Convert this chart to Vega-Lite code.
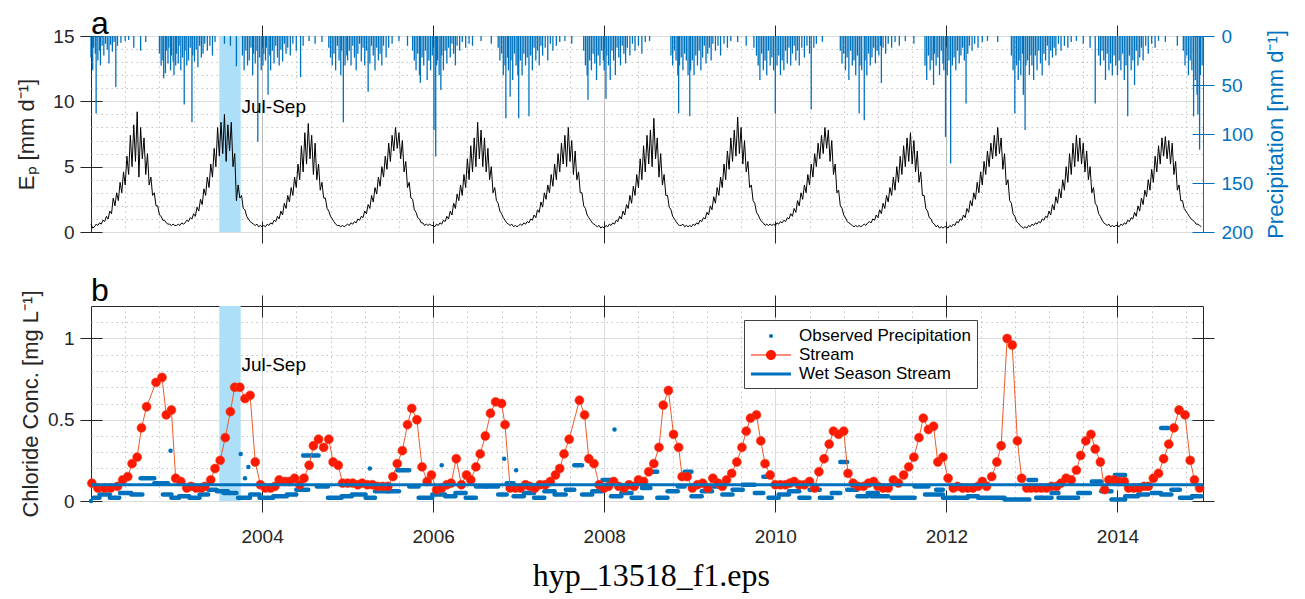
{
"$schema": "https://vega.github.io/schema/vega-lite/v6.json",
"background": "white",
"padding": {"left": 15, "top": 7, "right": 5, "bottom": 5},
"config": {
  "font": "Liberation Sans",
  "view": {"stroke": "#262626", "strokeWidth": 1},
  "axis": {"labelFont": "Liberation Sans", "titleFont": "Liberation Sans", "labelFontSize": 19, "titleFontSize": 22, "titleFontWeight": "normal", "labelColor": "#262626", "titleColor": "#262626", "tickColor": "#262626", "domain": false, "gridColor": "#DCDCDC", "labelOverlap": false}
},
"resolve": {"scale": {"x": "independent"}, "legend": {"color": "independent", "shape": "independent"}},
"title": {"text": "hyp_13518_f1.eps", "orient": "bottom", "anchor": "middle", "font": "Liberation Serif", "fontSize": 32, "fontWeight": "normal", "color": "#000000", "offset": 14},
"spacing": 30,
"vconcat": [
{
  "width": 1112, "height": 196,
  "title": {"text": "a", "anchor": "start", "frame": "group", "fontSize": 32, "fontWeight": "normal", "color": "#000000", "offset": -41, "baseline": "alphabetic", "font": "Liberation Sans"},
  "resolve": {"scale": {"y": "independent"}, "axis": {"x": "independent", "y": "independent"}},
  "layer": [
    {"data": {"values": [{}]},
     "mark": {"type": "point", "opacity": 0},
     "encoding": {
       "x": {"datum": 2002, "type": "quantitative", "scale": {"domain": [2002, 2015], "nice": false, "zero": false},
             "axis": {"orient": "bottom", "values": [2002.4,2002.8,2003.2,2003.6,2004,2004.4,2004.8,2005.2,2005.6,2006,2006.4,2006.8,2007.2,2007.6,2008,2008.4,2008.8,2009.2,2009.6,2010,2010.4,2010.8,2011.2,2011.6,2012,2012.4,2012.8,2013.2,2013.6,2014,2014.4,2014.8], "grid": true, "gridDash": [1.5, 3.5], "gridColor": "#C4C4C4", "ticks": false, "labels": false, "domain": false, "title": null}},
       "y": {"datum": 0, "type": "quantitative", "scale": {"domain": [0, 15], "nice": false, "zero": false},
             "axis": {"orient": "left", "values": [1,2,3,4,5,6,7,8,9,10,11,12,13,14], "grid": true, "gridDash": [1.5, 3.5], "gridColor": "#C4C4C4", "ticks": false, "labels": false, "domain": false, "title": null, "minExtent": 0}}
     }},
    {"data": {"values": [{"start": 2003.5, "end": 2003.75}]},
     "mark": {"type": "rect", "color": "#ADDFF9"},
     "encoding": {
       "x": {"field": "start", "type": "quantitative", "scale": {"domain": [2002, 2015], "nice": false, "zero": false}, "axis": null},
       "x2": {"field": "end"}
     }},
    {"data": {"values": "t,p\n2002.00,22\n2002.02,35\n2002.03,12\n2002.05,18\n2002.06,79\n2002.08,25\n2002.10,15\n2002.11,30\n2002.13,10\n2002.15,20\n2002.17,8\n2002.19,14\n2002.21,28\n2002.23,9\n2002.25,16\n2002.27,6\n2002.29,52\n2002.31,10\n2002.35,7\n2002.40,5\n2002.44,4\n2002.50,12\n2002.58,15\n2002.64,6\n2002.80,18\n2002.82,30\n2002.84,25\n2002.85,43\n2002.87,38\n2002.88,15\n2002.90,28\n2002.91,12\n2002.93,35\n2002.94,20\n2002.96,26\n2002.97,40\n2002.99,30\n2003.00,18\n2003.02,28\n2003.03,10\n2003.05,35\n2003.07,22\n2003.09,70\n2003.10,15\n2003.12,30\n2003.14,25\n2003.16,12\n2003.18,88\n2003.19,20\n2003.21,26\n2003.23,14\n2003.25,32\n2003.27,10\n2003.29,22\n2003.31,18\n2003.33,8\n2003.36,15\n2003.39,10\n2003.42,20\n2003.45,6\n2003.56,8\n2003.63,10\n2003.70,31\n2003.77,20\n2003.79,35\n2003.81,15\n2003.83,30\n2003.85,25\n2003.87,12\n2003.89,40\n2003.90,18\n2003.92,28\n2003.94,15\n2003.95,108\n2003.97,22\n2003.99,35\n2004.01,30\n2004.02,18\n2004.04,25\n2004.05,12\n2004.07,60\n2004.09,20\n2004.10,35\n2004.12,15\n2004.14,28\n2004.16,10\n2004.18,22\n2004.20,30\n2004.22,14\n2004.24,26\n2004.26,8\n2004.28,18\n2004.30,12\n2004.33,20\n2004.36,8\n2004.40,15\n2004.45,42\n2004.48,10\n2004.55,5\n2004.62,8\n2004.70,6\n2004.78,12\n2004.80,22\n2004.82,30\n2004.84,18\n2004.86,35\n2004.88,10\n2004.90,25\n2004.92,40\n2004.93,15\n2004.95,88\n2004.97,30\n2004.99,20\n2005.00,25\n2005.02,15\n2005.04,30\n2005.06,10\n2005.08,22\n2005.10,35\n2005.12,18\n2005.14,8\n2005.16,26\n2005.18,12\n2005.20,30\n2005.22,15\n2005.24,57\n2005.26,28\n2005.28,10\n2005.30,20\n2005.32,35\n2005.34,12\n2005.36,25\n2005.38,18\n2005.40,30\n2005.42,10\n2005.45,22\n2005.48,12\n2005.52,8\n2005.60,5\n2005.70,10\n2005.76,15\n2005.78,25\n2005.80,35\n2005.82,18\n2005.84,40\n2005.85,48\n2005.87,22\n2005.89,30\n2005.91,15\n2005.93,45\n2005.95,25\n2005.97,35\n2005.99,20\n2006.01,96\n2006.03,123\n2006.04,30\n2006.05,25\n2006.07,40\n2006.09,55\n2006.10,20\n2006.12,35\n2006.14,15\n2006.16,28\n2006.18,12\n2006.20,22\n2006.22,8\n2006.24,18\n2006.26,30\n2006.28,10\n2006.31,15\n2006.34,6\n2006.38,12\n2006.42,8\n2006.46,10\n2006.56,5\n2006.68,8\n2006.76,12\n2006.78,25\n2006.80,18\n2006.82,40\n2006.84,30\n2006.85,84\n2006.87,22\n2006.88,35\n2006.90,62\n2006.91,25\n2006.93,45\n2006.95,18\n2006.97,30\n2006.99,40\n2007.00,84\n2007.02,25\n2007.04,40\n2007.06,18\n2007.08,30\n2007.10,22\n2007.12,82\n2007.14,20\n2007.16,35\n2007.18,12\n2007.20,25\n2007.22,15\n2007.24,30\n2007.26,10\n2007.28,20\n2007.31,12\n2007.34,25\n2007.37,8\n2007.40,15\n2007.44,10\n2007.48,6\n2007.54,5\n2007.62,8\n2007.76,15\n2007.78,30\n2007.80,40\n2007.81,65\n2007.83,25\n2007.85,35\n2007.87,18\n2007.89,28\n2007.91,45\n2007.93,20\n2007.95,30\n2007.97,15\n2007.99,25\n2008.00,35\n2008.02,64\n2008.03,20\n2008.05,30\n2008.07,45\n2008.09,15\n2008.11,25\n2008.13,40\n2008.15,12\n2008.17,22\n2008.19,30\n2008.21,10\n2008.23,18\n2008.25,28\n2008.27,12\n2008.30,20\n2008.33,8\n2008.36,15\n2008.40,10\n2008.44,18\n2008.48,6\n2008.53,5\n2008.78,20\n2008.80,30\n2008.82,15\n2008.84,25\n2008.86,40\n2008.87,79\n2008.88,30\n2008.90,22\n2008.92,35\n2008.94,18\n2008.96,25\n2008.98,40\n2009.00,82\n2009.01,35\n2009.03,25\n2009.05,40\n2009.07,20\n2009.09,30\n2009.11,15\n2009.13,35\n2009.15,22\n2009.17,10\n2009.19,28\n2009.21,18\n2009.23,12\n2009.25,25\n2009.27,8\n2009.30,15\n2009.33,10\n2009.36,20\n2009.40,8\n2009.44,12\n2009.48,5\n2009.56,6\n2009.66,10\n2009.75,12\n2009.78,20\n2009.80,30\n2009.82,45\n2009.84,18\n2009.86,35\n2009.88,25\n2009.90,40\n2009.92,15\n2009.94,30\n2009.96,22\n2009.98,35\n2010.00,79\n2010.02,30\n2010.04,20\n2010.06,40\n2010.08,25\n2010.10,35\n2010.12,15\n2010.14,28\n2010.16,12\n2010.18,30\n2010.20,18\n2010.22,10\n2010.24,25\n2010.26,15\n2010.28,30\n2010.31,12\n2010.34,22\n2010.37,10\n2010.40,18\n2010.42,75\n2010.45,12\n2010.48,8\n2010.55,6\n2010.76,15\n2010.78,28\n2010.80,18\n2010.82,35\n2010.84,22\n2010.86,45\n2010.88,15\n2010.90,30\n2010.92,25\n2010.94,40\n2010.96,20\n2010.98,79\n2010.99,30\n2011.01,35\n2011.04,86\n2011.05,25\n2011.07,40\n2011.09,18\n2011.11,30\n2011.13,22\n2011.15,12\n2011.17,28\n2011.19,15\n2011.21,20\n2011.23,10\n2011.24,48\n2011.26,12\n2011.29,18\n2011.32,8\n2011.36,12\n2011.40,6\n2011.45,10\n2011.52,5\n2011.62,8\n2011.75,30\n2011.77,45\n2011.79,20\n2011.81,35\n2011.83,25\n2011.85,50\n2011.86,18\n2011.88,30\n2011.90,22\n2011.92,40\n2011.94,15\n2011.96,28\n2011.97,35\n2011.99,103\n2012.01,40\n2012.03,25\n2012.05,130\n2012.07,30\n2012.09,22\n2012.11,35\n2012.13,15\n2012.15,28\n2012.17,20\n2012.19,12\n2012.21,25\n2012.23,69\n2012.25,18\n2012.27,10\n2012.30,15\n2012.33,8\n2012.37,12\n2012.42,6\n2012.48,5\n2012.60,6\n2012.76,20\n2012.78,35\n2012.80,79\n2012.82,30\n2012.84,45\n2012.85,25\n2012.87,40\n2012.89,18\n2012.90,60\n2012.92,96\n2012.93,30\n2012.95,25\n2012.97,40\n2012.99,20\n2013.00,30\n2013.02,45\n2013.04,20\n2013.06,35\n2013.08,15\n2013.10,28\n2013.12,40\n2013.14,18\n2013.16,25\n2013.18,10\n2013.20,30\n2013.22,15\n2013.24,22\n2013.26,12\n2013.28,20\n2013.31,8\n2013.34,15\n2013.38,10\n2013.42,12\n2013.46,6\n2013.52,5\n2013.60,8\n2013.68,12\n2013.74,69\n2013.78,20\n2013.80,30\n2013.82,15\n2013.84,25\n2013.86,45\n2013.88,18\n2013.90,35\n2013.92,28\n2013.94,40\n2013.96,20\n2013.98,30\n2014.00,40\n2014.02,25\n2014.04,35\n2014.06,18\n2014.08,45\n2014.10,30\n2014.12,82\n2014.14,20\n2014.16,35\n2014.18,25\n2014.20,50\n2014.22,15\n2014.24,30\n2014.26,22\n2014.28,12\n2014.30,25\n2014.33,10\n2014.36,18\n2014.40,8\n2014.44,12\n2014.48,5\n2014.56,6\n2014.70,10\n2014.77,15\n2014.79,30\n2014.81,20\n2014.83,40\n2014.85,25\n2014.87,35\n2014.89,82\n2014.91,45\n2014.93,60\n2014.94,80\n2014.96,116\n2014.97,40\n2014.99,30", "format": {"type": "csv", "parse": {"t": "number", "p": "number"}}},
     "mark": {"type": "rule", "color": "#0072BD", "strokeWidth": 1.3},
     "encoding": {
       "x": {"field": "t", "type": "quantitative", "scale": {"domain": [2002, 2015], "nice": false, "zero": false}, "axis": null},
       "y": {"field": "p", "type": "quantitative", "scale": {"domain": [0, 200], "reverse": true, "nice": false, "zero": false},
             "axis": {"orient": "right", "values": [0, 50, 100, 150, 200], "title": "Precipitation [mm d⁻¹]", "titleAngle": 270, "titleBaseline": "top", "titlePadding": 13, "labelColor": "#0072BD", "titleColor": "#0072BD", "tickColor": "#0072BD", "domain": true, "domainColor": "#0072BD", "tickSize": 11, "labelPadding": 7, "grid": false}},
       "y2": {"datum": 0}
     }},
    {"data": {"values": "t,e\n2002.00,0.6\n2002.02,0.3\n2002.04,0.4\n2002.06,0.6\n2002.08,0.5\n2002.10,0.7\n2002.12,0.6\n2002.14,0.9\n2002.16,0.8\n2002.18,1.2\n2002.20,1.0\n2002.22,1.6\n2002.24,1.4\n2002.26,2.6\n2002.28,2.0\n2002.30,3.0\n2002.32,2.4\n2002.34,3.8\n2002.36,3.0\n2002.38,4.6\n2002.40,3.6\n2002.42,5.8\n2002.44,4.4\n2002.46,7.4\n2002.48,5.0\n2002.50,8.2\n2002.52,5.4\n2002.54,9.2\n2002.56,4.2\n2002.58,8.0\n2002.60,5.6\n2002.62,7.2\n2002.64,4.4\n2002.66,6.0\n2002.68,3.6\n2002.70,4.2\n2002.72,2.8\n2002.74,3.0\n2002.76,2.0\n2002.78,2.0\n2002.80,1.3\n2002.82,1.2\n2002.84,0.9\n2002.86,0.9\n2002.88,0.7\n2002.90,0.6\n2002.92,0.6\n2002.94,0.5\n2002.96,0.6\n2002.98,0.5\n2003.00,0.5\n2003.02,0.6\n2003.04,0.5\n2003.06,0.7\n2003.08,0.6\n2003.10,0.7\n2003.12,0.9\n2003.14,0.8\n2003.16,1.1\n2003.18,1.0\n2003.20,1.4\n2003.22,1.2\n2003.24,1.9\n2003.26,1.6\n2003.28,2.5\n2003.30,2.1\n2003.32,3.3\n2003.34,2.8\n2003.36,4.2\n2003.38,3.4\n2003.40,5.2\n2003.42,4.2\n2003.44,6.4\n2003.46,5.0\n2003.48,8.0\n2003.50,5.8\n2003.52,8.4\n2003.54,6.0\n2003.56,9.0\n2003.58,5.4\n2003.60,8.2\n2003.62,6.2\n2003.64,8.4\n2003.66,5.0\n2003.68,6.0\n2003.70,2.4\n2003.72,3.6\n2003.74,2.6\n2003.76,2.8\n2003.78,1.8\n2003.80,1.7\n2003.82,1.2\n2003.84,1.0\n2003.86,0.8\n2003.88,0.7\n2003.90,0.6\n2003.92,0.5\n2003.94,0.6\n2003.96,0.4\n2003.98,0.5\n2004.00,0.4\n2004.02,0.5\n2004.04,0.4\n2004.06,0.6\n2004.08,0.5\n2004.10,0.7\n2004.12,0.6\n2004.14,0.9\n2004.16,0.8\n2004.18,1.2\n2004.20,1.0\n2004.22,1.6\n2004.24,1.3\n2004.26,2.2\n2004.28,1.8\n2004.30,2.8\n2004.32,2.3\n2004.34,3.4\n2004.36,2.8\n2004.38,4.2\n2004.40,3.4\n2004.42,5.2\n2004.44,4.0\n2004.46,6.6\n2004.48,4.6\n2004.50,7.6\n2004.52,5.2\n2004.54,8.3\n2004.56,5.6\n2004.58,7.4\n2004.60,4.4\n2004.62,6.8\n2004.64,4.0\n2004.66,5.2\n2004.68,3.2\n2004.70,3.8\n2004.72,2.6\n2004.74,2.6\n2004.76,1.8\n2004.78,1.6\n2004.80,1.2\n2004.82,1.0\n2004.84,0.8\n2004.86,0.6\n2004.88,0.5\n2004.90,0.5\n2004.92,0.4\n2004.94,0.5\n2004.96,0.4\n2004.98,0.5\n2005.00,0.6\n2005.02,0.5\n2005.04,0.7\n2005.06,0.6\n2005.08,0.8\n2005.10,0.7\n2005.12,1.0\n2005.14,0.9\n2005.16,1.2\n2005.18,1.1\n2005.20,1.6\n2005.22,1.4\n2005.24,2.1\n2005.26,1.8\n2005.28,2.8\n2005.30,2.3\n2005.32,3.4\n2005.34,2.9\n2005.36,4.2\n2005.38,3.5\n2005.40,5.0\n2005.42,4.2\n2005.44,5.8\n2005.46,4.8\n2005.48,6.8\n2005.50,5.4\n2005.52,7.4\n2005.54,6.2\n2005.56,8.0\n2005.58,6.4\n2005.60,7.6\n2005.62,5.6\n2005.64,7.0\n2005.66,4.6\n2005.68,5.4\n2005.70,3.4\n2005.72,3.8\n2005.74,2.6\n2005.76,2.5\n2005.78,1.7\n2005.80,1.5\n2005.82,1.1\n2005.84,1.0\n2005.86,0.7\n2005.88,0.7\n2005.90,0.5\n2005.92,0.6\n2005.94,0.5\n2005.96,0.6\n2005.98,0.5\n2006.00,0.5\n2006.02,0.4\n2006.04,0.6\n2006.06,0.5\n2006.08,0.7\n2006.10,0.6\n2006.12,0.9\n2006.14,0.8\n2006.16,1.2\n2006.18,1.0\n2006.20,1.6\n2006.22,1.3\n2006.24,2.2\n2006.26,1.8\n2006.28,2.9\n2006.30,2.4\n2006.32,3.6\n2006.34,2.8\n2006.36,4.4\n2006.38,3.4\n2006.40,5.6\n2006.42,4.0\n2006.44,6.6\n2006.46,4.6\n2006.48,7.2\n2006.50,5.0\n2006.52,8.4\n2006.54,5.6\n2006.56,7.8\n2006.58,5.0\n2006.60,7.2\n2006.62,4.6\n2006.64,6.4\n2006.66,4.0\n2006.68,5.0\n2006.70,3.0\n2006.72,3.4\n2006.74,2.4\n2006.76,2.2\n2006.78,1.6\n2006.80,1.4\n2006.82,1.1\n2006.84,0.9\n2006.86,0.7\n2006.88,0.6\n2006.90,0.5\n2006.92,0.6\n2006.94,0.4\n2006.96,0.5\n2006.98,0.4\n2007.00,0.5\n2007.02,0.6\n2007.04,0.5\n2007.06,0.7\n2007.08,0.6\n2007.10,0.8\n2007.12,0.7\n2007.14,1.0\n2007.16,0.9\n2007.18,1.3\n2007.20,1.1\n2007.22,1.7\n2007.24,1.5\n2007.26,2.3\n2007.28,1.9\n2007.30,3.0\n2007.32,2.5\n2007.34,3.6\n2007.36,3.0\n2007.38,4.4\n2007.40,3.5\n2007.42,5.2\n2007.44,4.0\n2007.46,6.0\n2007.48,4.6\n2007.50,6.8\n2007.52,5.2\n2007.54,7.4\n2007.56,5.0\n2007.58,8.0\n2007.60,5.4\n2007.62,7.0\n2007.64,4.4\n2007.66,6.2\n2007.68,4.0\n2007.70,4.6\n2007.72,3.0\n2007.74,3.0\n2007.76,2.0\n2007.78,1.8\n2007.80,1.3\n2007.82,1.1\n2007.84,0.9\n2007.86,0.7\n2007.88,0.6\n2007.90,0.5\n2007.92,0.4\n2007.94,0.5\n2007.96,0.3\n2007.98,0.4\n2008.00,0.3\n2008.02,0.5\n2008.04,0.4\n2008.06,0.6\n2008.08,0.5\n2008.10,0.7\n2008.12,0.6\n2008.14,0.9\n2008.16,0.8\n2008.18,1.2\n2008.20,1.0\n2008.22,1.6\n2008.24,1.3\n2008.26,2.1\n2008.28,1.8\n2008.30,2.8\n2008.32,2.2\n2008.34,3.5\n2008.36,2.8\n2008.38,4.4\n2008.40,3.4\n2008.42,5.6\n2008.44,4.0\n2008.46,6.6\n2008.48,4.6\n2008.50,7.4\n2008.52,5.2\n2008.54,7.8\n2008.56,5.0\n2008.58,8.7\n2008.60,5.6\n2008.62,7.2\n2008.64,4.2\n2008.66,6.0\n2008.68,3.6\n2008.70,4.4\n2008.72,2.8\n2008.74,2.8\n2008.76,1.9\n2008.78,1.7\n2008.80,1.2\n2008.82,1.0\n2008.84,0.8\n2008.86,0.6\n2008.88,0.5\n2008.90,0.5\n2008.92,0.6\n2008.94,0.4\n2008.96,0.5\n2008.98,0.4\n2009.00,0.5\n2009.02,0.4\n2009.04,0.6\n2009.06,0.5\n2009.08,0.7\n2009.10,0.6\n2009.12,0.9\n2009.14,0.8\n2009.16,1.1\n2009.18,1.0\n2009.20,1.5\n2009.22,1.3\n2009.24,2.0\n2009.26,1.7\n2009.28,2.7\n2009.30,2.2\n2009.32,3.4\n2009.34,2.8\n2009.36,4.2\n2009.38,3.4\n2009.40,5.2\n2009.42,4.0\n2009.44,6.2\n2009.46,4.8\n2009.48,7.2\n2009.50,5.4\n2009.52,7.8\n2009.54,5.8\n2009.56,8.8\n2009.58,6.0\n2009.60,8.0\n2009.62,5.2\n2009.64,7.0\n2009.66,4.6\n2009.68,5.4\n2009.70,3.4\n2009.72,3.6\n2009.74,2.4\n2009.76,2.2\n2009.78,1.5\n2009.80,1.3\n2009.82,1.0\n2009.84,0.8\n2009.86,0.7\n2009.88,0.5\n2009.90,0.6\n2009.92,0.5\n2009.94,0.6\n2009.96,0.5\n2009.98,0.6\n2010.00,0.5\n2010.02,0.7\n2010.04,0.6\n2010.06,0.8\n2010.08,0.7\n2010.10,0.9\n2010.12,0.8\n2010.14,1.1\n2010.16,1.0\n2010.18,1.4\n2010.20,1.2\n2010.22,1.8\n2010.24,1.5\n2010.26,2.4\n2010.28,2.0\n2010.30,3.0\n2010.32,2.5\n2010.34,3.6\n2010.36,3.0\n2010.38,4.4\n2010.40,3.6\n2010.42,5.2\n2010.44,4.2\n2010.46,6.0\n2010.48,5.0\n2010.50,6.8\n2010.52,5.6\n2010.54,7.4\n2010.56,6.0\n2010.58,8.0\n2010.60,6.4\n2010.62,7.8\n2010.64,5.4\n2010.66,7.0\n2010.68,4.4\n2010.70,5.2\n2010.72,3.0\n2010.74,3.2\n2010.76,2.0\n2010.78,1.8\n2010.80,1.3\n2010.82,1.1\n2010.84,0.8\n2010.86,0.7\n2010.88,0.6\n2010.90,0.5\n2010.92,0.4\n2010.94,0.5\n2010.96,0.4\n2010.98,0.5\n2011.00,0.4\n2011.02,0.5\n2011.04,0.6\n2011.06,0.5\n2011.08,0.7\n2011.10,0.8\n2011.12,0.7\n2011.14,1.0\n2011.16,0.9\n2011.18,1.3\n2011.20,1.1\n2011.22,1.7\n2011.24,1.4\n2011.26,2.2\n2011.28,1.8\n2011.30,2.8\n2011.32,2.3\n2011.34,3.4\n2011.36,2.8\n2011.38,4.2\n2011.40,3.2\n2011.42,5.0\n2011.44,3.8\n2011.46,5.8\n2011.48,4.4\n2011.50,6.6\n2011.52,5.0\n2011.54,7.2\n2011.56,5.4\n2011.58,7.6\n2011.60,5.2\n2011.62,7.0\n2011.64,4.6\n2011.66,6.2\n2011.68,3.8\n2011.70,4.6\n2011.72,2.8\n2011.74,2.8\n2011.76,1.8\n2011.78,1.6\n2011.80,1.1\n2011.82,1.0\n2011.84,0.7\n2011.86,0.6\n2011.88,0.4\n2011.90,0.5\n2011.92,0.3\n2011.94,0.4\n2011.96,0.3\n2011.98,0.4\n2012.00,0.4\n2012.02,0.3\n2012.04,0.5\n2012.06,0.4\n2012.08,0.6\n2012.10,0.5\n2012.12,0.8\n2012.14,0.7\n2012.16,1.0\n2012.18,0.9\n2012.20,1.3\n2012.22,1.1\n2012.24,1.8\n2012.26,1.5\n2012.28,2.4\n2012.30,2.0\n2012.32,3.0\n2012.34,2.5\n2012.36,3.8\n2012.38,3.0\n2012.40,4.6\n2012.42,3.6\n2012.44,5.4\n2012.46,4.4\n2012.48,6.2\n2012.50,5.0\n2012.52,6.8\n2012.54,5.6\n2012.56,7.4\n2012.58,5.8\n2012.60,8.0\n2012.62,6.0\n2012.64,7.2\n2012.66,4.8\n2012.68,6.0\n2012.70,3.6\n2012.72,4.0\n2012.74,2.4\n2012.76,2.2\n2012.78,1.4\n2012.80,1.2\n2012.82,0.8\n2012.84,0.7\n2012.86,0.5\n2012.88,0.4\n2012.90,0.3\n2012.92,0.4\n2012.94,0.3\n2012.96,0.5\n2012.98,0.4\n2013.00,0.6\n2013.02,0.5\n2013.04,0.7\n2013.06,0.6\n2013.08,0.8\n2013.10,0.7\n2013.12,1.0\n2013.14,0.9\n2013.16,1.2\n2013.18,1.1\n2013.20,1.6\n2013.22,1.3\n2013.24,2.1\n2013.26,1.7\n2013.28,2.7\n2013.30,2.2\n2013.32,3.3\n2013.34,2.6\n2013.36,4.0\n2013.38,3.2\n2013.40,5.0\n2013.42,3.8\n2013.44,6.0\n2013.46,4.4\n2013.48,6.8\n2013.50,5.0\n2013.52,7.4\n2013.54,5.4\n2013.56,7.2\n2013.58,5.2\n2013.60,6.8\n2013.62,4.6\n2013.64,6.2\n2013.66,4.0\n2013.68,5.0\n2013.70,3.0\n2013.72,3.4\n2013.74,2.2\n2013.76,2.0\n2013.78,1.4\n2013.80,1.2\n2013.82,0.9\n2013.84,0.7\n2013.86,0.6\n2013.88,0.5\n2013.90,0.6\n2013.92,0.4\n2013.94,0.5\n2013.96,0.4\n2013.98,0.5\n2014.00,0.5\n2014.02,0.4\n2014.04,0.6\n2014.06,0.5\n2014.08,0.7\n2014.10,0.6\n2014.12,0.9\n2014.14,0.8\n2014.16,1.1\n2014.18,1.0\n2014.20,1.5\n2014.22,1.2\n2014.24,2.0\n2014.26,1.6\n2014.28,2.6\n2014.30,2.1\n2014.32,3.2\n2014.34,2.7\n2014.36,4.0\n2014.38,3.2\n2014.40,4.8\n2014.42,3.8\n2014.44,5.8\n2014.46,4.6\n2014.48,6.6\n2014.50,5.2\n2014.52,7.2\n2014.54,5.8\n2014.56,7.3\n2014.58,5.6\n2014.60,7.0\n2014.62,5.2\n2014.64,6.8\n2014.66,4.4\n2014.68,5.4\n2014.70,3.2\n2014.72,3.6\n2014.74,2.4\n2014.76,2.4\n2014.78,1.8\n2014.80,1.6\n2014.82,1.4\n2014.84,1.2\n2014.86,1.0\n2014.88,0.9\n2014.90,0.8\n2014.92,0.6\n2014.94,0.6\n2014.96,0.5\n2014.98,0.4", "format": {"type": "csv", "parse": {"t": "number", "e": "number"}}},
     "mark": {"type": "line", "color": "#000000", "strokeWidth": 1},
     "encoding": {
       "x": {"field": "t", "type": "quantitative", "scale": {"domain": [2002, 2015], "nice": false, "zero": false},
             "axis": {"orient": "bottom", "values": [2004, 2006, 2008, 2010, 2012, 2014], "labels": false, "grid": true, "gridColor": "#B8B8B8", "tickSize": 22, "offset": -11, "title": null, "domain": false}},
       "y": {"field": "e", "type": "quantitative", "scale": {"domain": [0, 15], "nice": false, "zero": false},
             "axis": {"orient": "left", "values": [0, 5, 10, 15], "tickSize": 22, "offset": -11, "labelPadding": 6, "grid": true, "title": "Eₚ [mm d⁻¹]", "titlePadding": 14}}
     }},
    {"data": {"values": [{}]},
     "mark": {"type": "text", "text": "Jul-Sep", "align": "left", "baseline": "middle", "fontSize": 19, "font": "Liberation Sans", "color": "#000000"},
     "encoding": {
       "x": {"datum": 2003.76, "type": "quantitative", "scale": {"domain": [2002, 2015], "nice": false, "zero": false},
             "axis": {"orient": "top", "values": [2004, 2006, 2008, 2010, 2012, 2014], "labels": false, "tickSize": 22, "offset": -11, "grid": false, "title": null, "domain": false}},
       "y": {"datum": 72, "type": "quantitative", "scale": {"domain": [0, 200], "reverse": true, "nice": false, "zero": false},
             "axis": {"orient": "right", "values": [0, 50, 100, 150, 200], "labels": false, "tickSize": 11, "offset": -11, "tickColor": "#0072BD", "grid": false, "title": null, "domain": false, "minExtent": 0}}
     }}
  ]
},
{
  "width": 1112, "height": 195,
  "title": {"text": "b", "anchor": "start", "frame": "group", "fontSize": 32, "fontWeight": "normal", "color": "#000000", "offset": -43, "baseline": "alphabetic", "font": "Liberation Sans"},
  "resolve": {"axis": {"x": "independent", "y": "independent"}},
  "layer": [
    {"data": {"values": [{}]},
     "mark": {"type": "point", "opacity": 0},
     "encoding": {
       "x": {"datum": 2002, "type": "quantitative", "scale": {"domain": [2002, 2015], "nice": false, "zero": false},
             "axis": {"orient": "bottom", "values": [2002.4,2002.8,2003.2,2003.6,2004,2004.4,2004.8,2005.2,2005.6,2006,2006.4,2006.8,2007.2,2007.6,2008,2008.4,2008.8,2009.2,2009.6,2010,2010.4,2010.8,2011.2,2011.6,2012,2012.4,2012.8,2013.2,2013.6,2014,2014.4,2014.8], "grid": true, "gridDash": [1.5, 3.5], "gridColor": "#C4C4C4", "ticks": false, "labels": false, "domain": false, "title": null}},
       "y": {"datum": 0, "type": "quantitative", "scale": {"domain": [0, 1.2], "nice": false, "zero": false},
             "axis": {"orient": "left", "values": [0.1,0.2,0.3,0.4,0.5,0.6,0.7,0.8,0.9,1.0,1.1], "grid": true, "gridDash": [1.5, 3.5], "gridColor": "#C4C4C4", "ticks": false, "labels": false, "domain": false, "title": null, "minExtent": 0}}
     }},
    {"data": {"values": [{"start": 2003.5, "end": 2003.75}]},
     "mark": {"type": "rect", "color": "#ADDFF9"},
     "encoding": {
       "x": {"field": "start", "type": "quantitative", "scale": {"domain": [2002, 2015], "nice": false, "zero": false}, "axis": null},
       "x2": {"field": "end"}
     }},
    {"data": {"values": "a,b,c\n2002.00,2002.00,0.00\n2002.03,2002.10,0.02\n2002.10,2002.22,0.04\n2002.22,2002.33,0.02\n2002.34,2002.47,0.05\n2002.47,2002.60,0.04\n2002.58,2002.74,0.14\n2002.74,2002.90,0.11\n2002.84,2002.94,0.04\n2002.93,2002.93,0.31\n2002.94,2003.03,0.02\n2003.03,2003.15,0.03\n2003.15,2003.27,0.02\n2003.27,2003.37,0.04\n2003.37,2003.47,0.07\n2003.47,2003.60,0.06\n2003.55,2003.70,0.05\n2003.75,2003.75,0.29\n2003.80,2003.80,0.14\n2003.84,2003.84,0.21\n2003.72,2003.86,0.02\n2003.86,2003.97,0.04\n2003.97,2004.13,0.02\n2004.13,2004.29,0.03\n2004.29,2004.40,0.04\n2004.40,2004.54,0.07\n2004.48,2004.66,0.28\n2004.64,2004.77,0.09\n2004.77,2004.93,0.02\n2004.93,2005.05,0.03\n2005.05,2005.21,0.04\n2005.26,2005.26,0.20\n2005.21,2005.32,0.02\n2005.32,2005.48,0.06\n2005.46,2005.60,0.06\n2005.58,2005.72,0.19\n2005.72,2005.83,0.09\n2005.83,2005.99,0.02\n2005.99,2006.14,0.04\n2006.10,2006.10,0.22\n2006.14,2006.26,0.03\n2006.26,2006.38,0.05\n2006.38,2006.50,0.02\n2006.50,2006.62,0.09\n2006.62,2006.76,0.09\n2006.76,2006.86,0.04\n2006.83,2006.83,0.26\n2006.86,2006.94,0.11\n2006.97,2006.97,0.19\n2006.94,2007.06,0.03\n2007.06,2007.18,0.05\n2007.18,2007.30,0.02\n2007.30,2007.42,0.06\n2007.42,2007.55,0.04\n2007.55,2007.65,0.07\n2007.65,2007.74,0.22\n2007.74,2007.86,0.04\n2007.86,2007.98,0.06\n2007.98,2008.08,0.13\n2008.08,2008.20,0.03\n2008.12,2008.12,0.44\n2008.20,2008.32,0.05\n2008.32,2008.44,0.02\n2008.44,2008.54,0.08\n2008.54,2008.62,0.18\n2008.62,2008.74,0.02\n2008.74,2008.86,0.06\n2008.86,2008.94,0.09\n2008.94,2009.02,0.18\n2009.02,2009.14,0.03\n2009.14,2009.26,0.06\n2009.26,2009.38,0.09\n2009.38,2009.50,0.04\n2009.50,2009.62,0.07\n2009.62,2009.76,0.10\n2009.76,2009.86,0.05\n2009.86,2009.92,0.15\n2009.92,2010.04,0.02\n2010.04,2010.16,0.04\n2010.16,2010.28,0.06\n2010.28,2010.40,0.02\n2010.40,2010.52,0.07\n2010.52,2010.66,0.02\n2010.66,2010.76,0.05\n2010.76,2010.84,0.24\n2010.84,2010.96,0.07\n2010.96,2011.08,0.03\n2011.08,2011.20,0.05\n2011.12,2011.32,0.03\n2011.36,2011.63,0.02\n2011.63,2011.79,0.09\n2011.75,2011.96,0.04\n2011.88,2011.96,0.07\n2011.96,2012.10,0.02\n2012.10,2012.25,0.02\n2012.25,2012.37,0.03\n2012.37,2012.68,0.02\n2012.68,2012.97,0.01\n2012.96,2013.05,0.13\n2013.05,2013.11,0.02\n2013.11,2013.23,0.02\n2013.23,2013.31,0.05\n2013.31,2013.54,0.02\n2013.54,2013.68,0.05\n2013.70,2013.81,0.12\n2013.81,2013.93,0.06\n2013.93,2014.09,0.01\n2013.97,2014.09,0.16\n2014.09,2014.24,0.03\n2014.24,2014.36,0.04\n2014.40,2014.51,0.05\n2014.51,2014.59,0.45\n2014.51,2014.63,0.04\n2014.63,2014.73,0.07\n2014.73,2014.87,0.02\n2014.87,2014.98,0.03", "format": {"type": "csv", "parse": {"a": "number", "b": "number", "c": "number"}}},
     "mark": {"type": "rule", "color": "#0072BD", "strokeWidth": 4.5, "strokeCap": "round"},
     "encoding": {
       "x": {"field": "a", "type": "quantitative", "scale": {"domain": [2002, 2015], "nice": false, "zero": false}, "axis": null},
       "x2": {"field": "b"},
       "y": {"field": "c", "type": "quantitative", "scale": {"domain": [0, 1.2], "nice": false, "zero": false}, "axis": null}
     }},
    {"data": {"values": "t,c\n2002.01,0.11\n2002.08,0.08\n2002.16,0.08\n2002.23,0.08\n2002.31,0.09\n2002.37,0.13\n2002.43,0.15\n2002.48,0.23\n2002.54,0.27\n2002.59,0.45\n2002.65,0.58\n2002.76,0.73\n2002.83,0.76\n2002.88,0.53\n2002.94,0.56\n2002.99,0.14\n2003.05,0.12\n2003.12,0.08\n2003.17,0.09\n2003.23,0.08\n2003.29,0.08\n2003.33,0.09\n2003.40,0.13\n2003.45,0.20\n2003.51,0.25\n2003.57,0.39\n2003.63,0.55\n2003.68,0.70\n2003.74,0.70\n2003.80,0.63\n2003.86,0.65\n2003.92,0.24\n2003.98,0.10\n2004.04,0.08\n2004.10,0.08\n2004.15,0.09\n2004.20,0.13\n2004.27,0.12\n2004.32,0.12\n2004.38,0.14\n2004.44,0.10\n2004.49,0.14\n2004.55,0.22\n2004.60,0.34\n2004.66,0.38\n2004.72,0.33\n2004.78,0.38\n2004.83,0.24\n2004.89,0.22\n2004.94,0.11\n2005.00,0.11\n2005.06,0.11\n2005.12,0.10\n2005.17,0.11\n2005.23,0.10\n2005.29,0.10\n2005.35,0.09\n2005.41,0.09\n2005.47,0.09\n2005.53,0.15\n2005.58,0.23\n2005.64,0.31\n2005.70,0.47\n2005.75,0.57\n2005.81,0.50\n2005.87,0.21\n2005.93,0.12\n2005.98,0.16\n2006.04,0.07\n2006.10,0.08\n2006.16,0.10\n2006.21,0.11\n2006.27,0.26\n2006.33,0.10\n2006.39,0.16\n2006.44,0.13\n2006.50,0.21\n2006.55,0.29\n2006.61,0.40\n2006.67,0.54\n2006.73,0.61\n2006.80,0.60\n2006.84,0.47\n2006.90,0.08\n2006.96,0.08\n2007.02,0.08\n2007.08,0.10\n2007.13,0.09\n2007.19,0.08\n2007.25,0.10\n2007.31,0.10\n2007.37,0.12\n2007.43,0.16\n2007.48,0.20\n2007.53,0.29\n2007.59,0.38\n2007.71,0.62\n2007.77,0.53\n2007.82,0.26\n2007.88,0.23\n2007.94,0.10\n2008.00,0.08\n2008.05,0.09\n2008.11,0.12\n2008.17,0.09\n2008.23,0.08\n2008.29,0.10\n2008.35,0.09\n2008.40,0.13\n2008.46,0.12\n2008.52,0.18\n2008.58,0.23\n2008.64,0.33\n2008.69,0.59\n2008.75,0.68\n2008.81,0.41\n2008.87,0.33\n2008.91,0.15\n2008.97,0.15\n2009.03,0.08\n2009.09,0.10\n2009.15,0.11\n2009.21,0.08\n2009.27,0.14\n2009.33,0.11\n2009.38,0.09\n2009.43,0.13\n2009.49,0.17\n2009.55,0.24\n2009.61,0.33\n2009.66,0.43\n2009.71,0.51\n2009.78,0.53\n2009.83,0.37\n2009.88,0.23\n2009.94,0.16\n2010.00,0.10\n2010.06,0.10\n2010.12,0.10\n2010.17,0.11\n2010.22,0.12\n2010.28,0.10\n2010.34,0.10\n2010.40,0.12\n2010.46,0.08\n2010.51,0.18\n2010.57,0.26\n2010.63,0.35\n2010.68,0.43\n2010.74,0.41\n2010.80,0.43\n2010.85,0.17\n2010.91,0.11\n2010.97,0.09\n2011.03,0.09\n2011.09,0.11\n2011.15,0.12\n2011.20,0.09\n2011.26,0.08\n2011.32,0.08\n2011.38,0.13\n2011.44,0.11\n2011.50,0.16\n2011.56,0.21\n2011.62,0.27\n2011.68,0.39\n2011.73,0.51\n2011.79,0.44\n2011.85,0.46\n2011.90,0.24\n2011.96,0.27\n2012.02,0.14\n2012.08,0.08\n2012.13,0.09\n2012.19,0.08\n2012.25,0.08\n2012.31,0.08\n2012.37,0.09\n2012.42,0.12\n2012.47,0.09\n2012.53,0.15\n2012.59,0.24\n2012.64,0.34\n2012.71,1.00\n2012.77,0.96\n2012.83,0.37\n2012.88,0.14\n2012.94,0.08\n2012.99,0.08\n2013.05,0.08\n2013.11,0.08\n2013.17,0.08\n2013.23,0.09\n2013.29,0.09\n2013.34,0.11\n2013.40,0.14\n2013.46,0.13\n2013.52,0.19\n2013.57,0.28\n2013.63,0.37\n2013.69,0.41\n2013.74,0.32\n2013.80,0.24\n2013.85,0.07\n2013.90,0.13\n2013.96,0.13\n2014.02,0.12\n2014.08,0.12\n2014.13,0.08\n2014.19,0.08\n2014.25,0.08\n2014.31,0.09\n2014.36,0.09\n2014.42,0.14\n2014.48,0.17\n2014.54,0.26\n2014.60,0.35\n2014.66,0.45\n2014.72,0.56\n2014.79,0.53\n2014.85,0.25\n2014.90,0.13\n2014.96,0.08", "format": {"type": "csv", "parse": {"t": "number", "c": "number"}}},
     "mark": {"type": "line", "color": "#EE5A2B", "strokeWidth": 1, "point": {"filled": true, "fill": "#FF1800", "stroke": "#E8401F", "strokeWidth": 0.6, "size": 80}},
     "encoding": {
       "x": {"field": "t", "type": "quantitative", "scale": {"domain": [2002, 2015], "nice": false, "zero": false},
             "axis": {"orient": "bottom", "values": [2004, 2006, 2008, 2010, 2012, 2014], "format": "d", "labelPadding": 15, "grid": true, "tickSize": 22, "offset": -11, "title": null, "domain": false}},
       "y": {"field": "c", "type": "quantitative", "scale": {"domain": [0, 1.2], "nice": false, "zero": false},
             "axis": {"orient": "left", "values": [0, 0.5, 1], "format": "~g", "tickSize": 22, "offset": -11, "labelPadding": 6, "grid": true, "title": "Chloride Conc. [mg L⁻¹]", "titlePadding": 5}}
     }},
    {"data": {"values": [{}]},
     "mark": {"type": "rule", "color": "#0072BD", "strokeWidth": 3},
     "encoding": {
       "y": {"datum": 0.1, "type": "quantitative", "scale": {"domain": [0, 1.2], "nice": false, "zero": false},
             "axis": {"orient": "right", "values": [0, 0.5, 1], "labels": false, "tickSize": 22, "offset": -11, "grid": false, "title": null, "domain": false, "minExtent": 0}}
     }},
    {"data": {"values": [{"s": "Observed Precipitation"}, {"s": "Stream"}, {"s": "Wet Season Stream"}]},
     "mark": {"type": "point", "filled": true, "opacity": 0},
     "encoding": {
       "color": {"field": "s", "type": "nominal",
                 "scale": {"domain": ["Observed Precipitation", "Stream", "Wet Season Stream"], "range": ["#0072BD", "#FF1800", "#0072BD"]},
                 "legend": {"orient": "none", "legendX": 653, "legendY": 14, "title": null, "symbolSize": 400, "symbolOffset": 11, "labelOffset": 18, "labelFontSize": 17, "labelFont": "Liberation Sans", "labelColor": "#000000", "labelLimit": 400, "padding": 6, "rowPadding": 1, "strokeColor": "#404040", "fillColor": "#FFFFFF", "symbolOpacity": 1, "symbolStrokeWidth": 0}},
       "shape": {"field": "s", "type": "nominal",
                 "scale": {"domain": ["Observed Precipitation", "Stream", "Wet Season Stream"], "range": ["M-0.2,0A0.2,0.2,0,1,0,0.2,0A0.2,0.2,0,1,0,-0.2,0Z", "M-2,-0.06H-0.5V0.06H-2Z M0.5,-0.06H2V0.06H0.5Z M-0.5,0A0.5,0.5,0,1,0,0.5,0A0.5,0.5,0,1,0,-0.5,0Z", "M-2,-0.15H2V0.15H-2Z"]},
                 "legend": {"orient": "none", "legendX": 653, "legendY": 14, "title": null, "symbolSize": 400, "symbolOffset": 11, "labelOffset": 18, "labelFontSize": 17, "labelFont": "Liberation Sans", "labelColor": "#000000", "labelLimit": 400, "padding": 6, "rowPadding": 1, "strokeColor": "#404040", "fillColor": "#FFFFFF", "symbolOpacity": 1, "symbolStrokeWidth": 0}}
     }},
    {"data": {"values": [{}]},
     "mark": {"type": "text", "text": "Jul-Sep", "align": "left", "baseline": "middle", "fontSize": 19, "font": "Liberation Sans", "color": "#000000"},
     "encoding": {
       "x": {"datum": 2003.76, "type": "quantitative", "scale": {"domain": [2002, 2015], "nice": false, "zero": false},
             "axis": {"orient": "top", "values": [2004, 2006, 2008, 2010, 2012, 2014], "labels": false, "tickSize": 22, "offset": -11, "grid": false, "title": null, "domain": false}},
       "y": {"datum": 0.84, "type": "quantitative", "scale": {"domain": [0, 1.2], "nice": false, "zero": false}, "axis": null}
     }}
  ]
}
]
}
